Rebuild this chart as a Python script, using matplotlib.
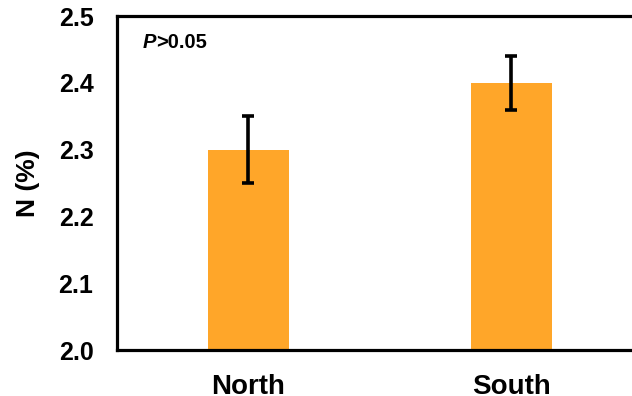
import numpy as np
import matplotlib.pyplot as plt

plt.rcParams['font.family'] = ['Liberation Sans', 'DejaVu Sans']
plt.rcParams['font.weight'] = 'bold'

regions = ['North', 'South']
n_means = [2.30, 2.40]
n_err = [0.05, 0.04]

fig = plt.figure(figsize=(6.32, 3.96), dpi=100)
# axes run past the right edge of the canvas, so the right spine is cut off
ax = fig.add_axes([117 / 632, 1 - 350 / 396, 526 / 632, 334 / 396])

x = np.arange(len(regions))
ax.bar(x, n_means, width=0.31, color='#FFA629', zorder=2)
ax.errorbar(x, n_means, yerr=n_err, fmt='none', ecolor='black',
            elinewidth=2.6, capsize=4.5, capthick=2.6, zorder=3)

ax.set_xlim(-0.5, 1.5)
ax.set_ylim(2.0, 2.5)
ax.set_yticks([2.0, 2.1, 2.2, 2.3, 2.4, 2.5])
ax.set_yticklabels(['2.0', '2.1', '2.2', '2.3', '2.4', '2.5'])
ax.set_xticks(x)
ax.set_xticklabels(regions)
ax.tick_params(axis='y', length=0, pad=17, labelsize=18)
ax.tick_params(axis='x', length=0, pad=17, labelsize=20)
for lab in ax.get_xticklabels() + ax.get_yticklabels():
    lab.set_fontweight('bold')

for side in ['left', 'bottom', 'top', 'right']:
    ax.spines[side].set_linewidth(2.3)

ax.set_ylabel('N (%)', fontsize=19, fontweight='bold')
ax.yaxis.set_label_coords(-0.147, 0.5)

# significance note: italic P followed by the threshold
p_txt = ax.text(0.049, 0.893, 'P', transform=ax.transAxes, fontsize=14.5,
                fontweight='bold', fontstyle='italic', va='bottom', ha='left')
ax.annotate('>0.05', xy=(1, 0), xycoords=p_txt, fontsize=14.5,
            fontweight='bold', va='bottom', ha='left')

fig.savefig('out.png', dpi=100)
